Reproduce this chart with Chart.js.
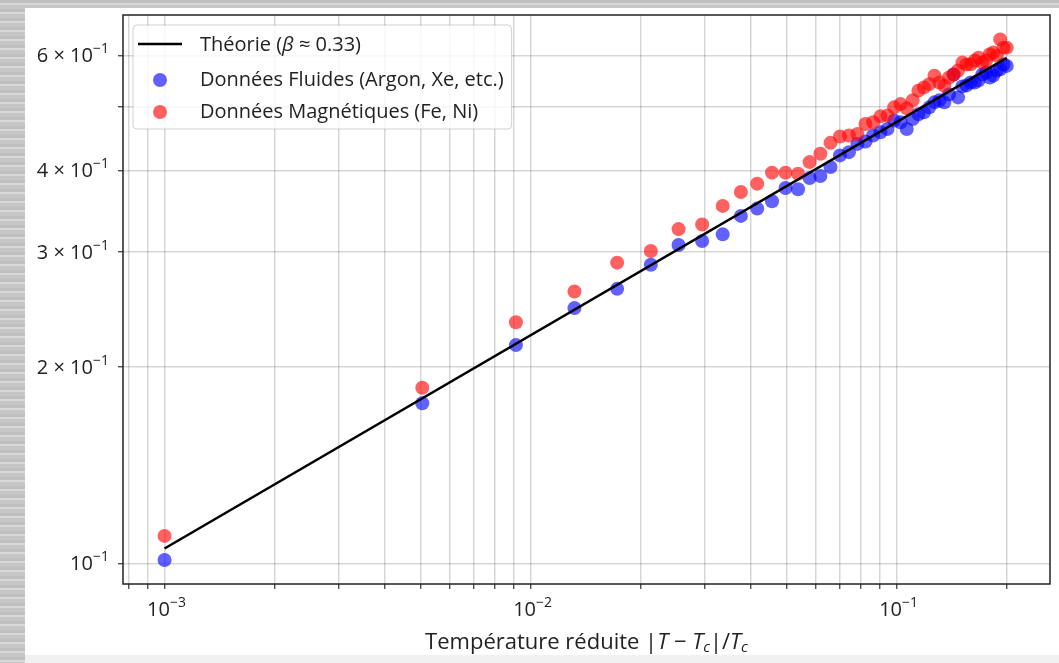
<!DOCTYPE html>
<html lang="fr">
<head>
<meta charset="utf-8">
<title>Exposant critique β</title>
<script src="https://cdn.jsdelivr.net/npm/chart.js@4.4.1/dist/chart.umd.min.js"></script>
<style>
  html, body { margin: 0; padding: 0; }
  body {
    width: 1059px; height: 663px; overflow: hidden; position: relative;
    background: repeating-linear-gradient(to bottom, #bfbfbf 0 3px, #d8d8d8 3px 5px, #c6c6c6 5px 9px);
  }
  #panel { position: absolute; left: 25px; top: 8px; width: 1034px; height: 647px; background: #fff; }
  #foot  { position: absolute; left: 25px; top: 655px; width: 1034px; height: 8px; background: #f1f1f1; }
  canvas { display: block; }
</style>
</head>
<body>
<div id="panel"><canvas id="chart-beta" width="1034" height="647"></canvas></div>
<div id="foot"></div>
<script>
// ── Data ─────────────────────────────────
const tempReduite = [
  0.00100, 0.00506, 0.00912, 0.01318, 0.01724, 0.02131, 0.02537, 0.02943, 0.03349, 0.03755,
  0.04161, 0.04567, 0.04973, 0.05380, 0.05786, 0.06192, 0.06598, 0.07004, 0.07410, 0.07816,
  0.08222, 0.08629, 0.09035, 0.09441, 0.09847, 0.10253, 0.10659, 0.11065, 0.11471, 0.11878,
  0.12284, 0.12690, 0.13096, 0.13502, 0.13908, 0.14314, 0.14720, 0.15127, 0.15533, 0.15939,
  0.16345, 0.16751, 0.17157, 0.17563, 0.17969, 0.18376, 0.18782, 0.19188, 0.19594, 0.20000,
];
const fluidesY = [
  0.1012, 0.1759, 0.2160, 0.2461, 0.2634, 0.2867, 0.3074, 0.3118, 0.3192, 0.3407,
  0.3496, 0.3588, 0.3760, 0.3743, 0.3895, 0.3922, 0.4048, 0.4217, 0.4266, 0.4392,
  0.4429, 0.4524, 0.4576, 0.4629, 0.4768, 0.4740, 0.4629, 0.4795, 0.4875, 0.4909,
  0.4996, 0.5085, 0.5121, 0.5085, 0.5230, 0.5610, 0.5175, 0.5379, 0.5398, 0.5455,
  0.5455, 0.5494, 0.5610, 0.5649, 0.5552, 0.5591, 0.5689, 0.5715, 0.5810, 0.5783,
];
const magnetiquesY = [
  0.1102, 0.1858, 0.2341, 0.2609, 0.2889, 0.3010, 0.3252, 0.3305, 0.3529, 0.3707,
  0.3817, 0.3968, 0.3968, 0.3954, 0.4119, 0.4241, 0.4408, 0.4508, 0.4524, 0.4549,
  0.4711, 0.4740, 0.4840, 0.4853, 0.4996, 0.5054, 0.4979, 0.5121, 0.5299, 0.5360,
  0.5422, 0.5585, 0.5455, 0.5392, 0.5552, 0.5610, 0.5689, 0.5850, 0.5810, 0.5815,
  0.5892, 0.5954, 0.5850, 0.5892, 0.6024, 0.6060, 0.5996, 0.6349, 0.6167, 0.6167,
];
const theorieX = [0.001, 0.2];
const theorieY = [0.1054, 0.595];

// grid lines (every decade subdivision) and labelled ticks
const xGrid = [
  0.0008, 0.0009,
  0.001, 0.002, 0.003, 0.004, 0.005, 0.006, 0.007, 0.008, 0.009,
  0.01, 0.02, 0.03, 0.04, 0.05, 0.06, 0.07, 0.08, 0.09,
  0.1, 0.2,
];
const yGrid = [0.1, 0.2, 0.3, 0.4, 0.5, 0.6];
const xTickVals = [0.001, 0.01, 0.1];
const xTickExp  = ['−3', '−2', '−1'];
const yTickVals = [0.1, 0.2, 0.3, 0.4, 0.6];
const yTickMant = ['', '2', '3', '4', '6'];
const yTickExp  = ['−1', '−1', '−1', '−1', '−1'];

const FONT = '"Open Sans", "DejaVu Sans", sans-serif';

// ── Helpers ──────────────────────────────
function drawParts(ctx, parts, x, y, align) {
  // parts: [text, size, italic, dy]
  const widths = parts.map(p => {
    ctx.font = (p[2] ? 'italic ' : '') + p[1] + 'px ' + FONT;
    return ctx.measureText(p[0]).width;
  });
  const total = widths.reduce((a, b) => a + b, 0);
  let cx = align === 'center' ? x - total / 2 : align === 'right' ? x - total : x;
  ctx.textAlign = 'left';
  parts.forEach((p, i) => {
    ctx.font = (p[2] ? 'italic ' : '') + p[1] + 'px ' + FONT;
    ctx.fillText(p[0], cx, y + (p[3] || 0));
    cx += widths[i];
  });
  return total;
}

// ── Plugins: frame, tick labels, axis title, legend ─
const decorPlugin = {
  id: 'decor',
  afterDraw(chart) {
    const { ctx, chartArea: ca, scales } = chart;
    ctx.save();

    // frame
    ctx.strokeStyle = '#222';
    ctx.lineWidth = 1.5;
    ctx.strokeRect(ca.left, ca.top, ca.right - ca.left, ca.bottom - ca.top);

    ctx.fillStyle = '#222';
    ctx.textBaseline = 'alphabetic';

    // x tick labels
    xTickVals.forEach((v, i) => {
      const px = scales.x.getPixelForValue(v);
      drawParts(ctx, [['10', 20, false, 0], [xTickExp[i], 14, false, -9]], px + 2, ca.bottom + 32, 'center');
    });

    // y tick labels
    yTickVals.forEach((v, i) => {
      const py = scales.y.getPixelForValue(v);
      const parts = [];
      if (yTickMant[i]) parts.push([yTickMant[i] + ' × ', 20, false, 0]);
      parts.push(['10', 20, false, 0], [yTickExp[i], 14, false, -9]);
      drawParts(ctx, parts, ca.left - 14, py + 7, 'right');
    });

    // x axis title
    drawParts(ctx, [
      ['Température réduite |', 22, false, 0],
      ['T', 22, true, 0], [' − ', 22, false, 0],
      ['T', 22, true, 0], ['c', 15, true, 3],
      ['|/', 22, false, 0],
      ['T', 22, true, 0], ['c', 15, true, 3],
    ], (ca.left + ca.right) / 2, ca.bottom + 65, 'center');

    // legend
    const lx = ca.left + 10, ly = ca.top + 10;
    const rows = [
      { kind: 'line', color: '#000', parts: [['Théorie (', 20, false, 0], ['β', 20, true, 0], [' ≈ 0.33)', 20, false, 0]] },
      { kind: 'dot', color: chart.data.datasets[1].backgroundColor, parts: [[chart.data.datasets[1].label, 20, false, 0]] },
      { kind: 'dot', color: chart.data.datasets[2].backgroundColor, parts: [[chart.data.datasets[2].label, 20, false, 0]] },
    ];
    const rowY = [19, 54, 86];
    let maxW = 0;
    rows.forEach(r => {
      let w = 0;
      r.parts.forEach(p => { ctx.font = (p[2] ? 'italic ' : '') + p[1] + 'px ' + FONT; w += ctx.measureText(p[0]).width; });
      maxW = Math.max(maxW, w);
    });
    const bw = 67 + maxW + 8, bh = 104;
    ctx.beginPath();
    ctx.roundRect(lx, ly, bw, bh, 4);
    ctx.fillStyle = 'rgba(255,255,255,0.8)';
    ctx.fill();
    ctx.strokeStyle = 'rgba(0,0,0,0.18)';
    ctx.lineWidth = 1;
    ctx.stroke();

    rows.forEach((r, i) => {
      const cy = ly + rowY[i];
      if (r.kind === 'line') {
        ctx.strokeStyle = r.color;
        ctx.lineWidth = 2.5;
        ctx.beginPath();
        ctx.moveTo(lx + 5, cy);
        ctx.lineTo(lx + 49, cy);
        ctx.stroke();
      } else {
        ctx.fillStyle = r.color;
        ctx.beginPath();
        ctx.arc(lx + 27, cy + 1, 7, 0, Math.PI * 2);
        ctx.fill();
      }
      ctx.fillStyle = '#222';
      drawParts(ctx, r.parts, lx + 67, cy + 7, 'left');
    });

    ctx.restore();
  },
};

// ── Chart ────────────────────────────────
const pts = (xs, ys) => xs.map((x, i) => ({ x, y: ys[i] }));

new Chart(document.getElementById('chart-beta'), {
  type: 'scatter',
  data: {
    datasets: [
      {
        label: 'Théorie (β ≈ 0.33)',
        data: pts(theorieX, theorieY),
        showLine: true,
        borderColor: '#000',
        borderWidth: 2.5,
        pointRadius: 0,
        order: 0,
      },
      {
        label: 'Données Fluides (Argon, Xe, etc.)',
        data: pts(tempReduite, fluidesY),
        backgroundColor: 'rgba(0,0,255,0.62)',
        borderWidth: 0,
        pointRadius: 7,
        order: 2,
      },
      {
        label: 'Données Magnétiques (Fe, Ni)',
        data: pts(tempReduite, magnetiquesY),
        backgroundColor: 'rgba(255,0,0,0.62)',
        borderWidth: 0,
        pointRadius: 7,
        order: 1,
      },
    ],
  },
  options: {
    responsive: false,
    animation: false,
    events: [],
    layout: { padding: { top: 4, right: 9, left: 0, bottom: 0 } },
    plugins: { legend: { display: false }, tooltip: { enabled: false } },
    scales: {
      x: {
        type: 'logarithmic',
        min: 0.00077,
        max: 0.2625,
        afterBuildTicks: axis => { axis.ticks = xGrid.map(value => ({ value })); },
        afterFit: axis => { axis.height = 71; },
        ticks: { display: false },
        border: { display: false },
        grid: { color: 'rgba(0,0,0,0.16)', lineWidth: 1.5, tickColor: '#333', tickWidth: 1.2, tickLength: 5 },
      },
      y: {
        type: 'logarithmic',
        min: 0.093,
        max: 0.692,
        afterBuildTicks: axis => { axis.ticks = yGrid.map(value => ({ value })); },
        afterFit: axis => { axis.width = 98; },
        ticks: { display: false },
        border: { display: false },
        grid: { color: 'rgba(0,0,0,0.16)', lineWidth: 1.5, tickColor: '#333', tickWidth: 1.2, tickLength: 5 },
      },
    },
  },
  plugins: [decorPlugin],
});
</script>
</body>
</html>
